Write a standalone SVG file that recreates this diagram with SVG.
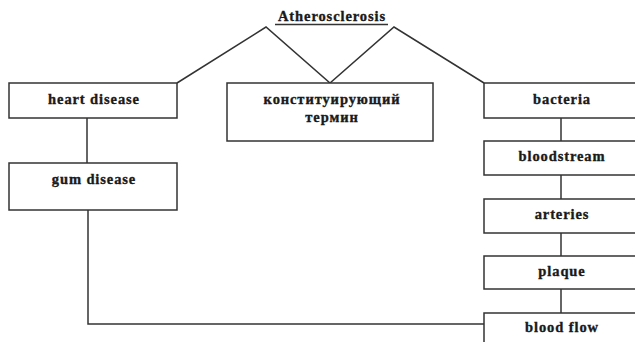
<svg xmlns="http://www.w3.org/2000/svg" width="635" height="342" viewBox="0 0 635 342">
<style>
.box{fill:#fff;stroke:#333;stroke-width:1.5}
.t{font-family:"Liberation Serif","Times New Roman",serif;font-weight:bold;font-size:14.5px;letter-spacing:0.9px;fill:#1a1a1a;stroke:#1a1a1a;stroke-width:0.35;text-anchor:middle}
.c{fill:none;stroke:#333;stroke-width:1.5}
</style>
<rect width="635" height="342" fill="#fff"/>
<g id="connectors">
<polyline class="c" points="177,83 266,27 330,83 394,27 484,83"/>
<line class="c" x1="87" y1="118" x2="87" y2="163"/>
<polyline class="c" points="88,210 88,324 484,324"/>
<line class="c" x1="561" y1="118" x2="561" y2="141"/>
<line class="c" x1="561" y1="175" x2="561" y2="199"/>
<line class="c" x1="561" y1="233" x2="561" y2="256"/>
<line class="c" x1="561" y1="289" x2="561" y2="313"/>
</g>
<g id="title">
<text class="t" x="332" y="21">Atherosclerosis</text>
<line x1="275" y1="24.5" x2="388" y2="24.5" stroke="#333" stroke-width="1.3"/>
</g>
<g id="heart-disease"><rect class="box" x="9" y="83" width="168" height="35"/><text class="t" x="94" y="104">heart disease</text></g>
<g id="gum-disease"><rect class="box" x="9" y="163" width="168" height="47"/><text class="t" x="94" y="184">gum disease</text></g>
<g id="term"><rect class="box" x="227" y="83" width="206" height="58"/><text class="t" x="332" y="104">конституирующий</text><text class="t" x="332" y="122">термин</text></g>
<g id="bacteria"><rect class="box" x="484" y="83" width="156" height="35"/><text class="t" x="562" y="104">bacteria</text></g>
<g id="bloodstream"><rect class="box" x="484" y="141" width="156" height="34"/><text class="t" x="562" y="161">bloodstream</text></g>
<g id="arteries"><rect class="box" x="484" y="199" width="156" height="34"/><text class="t" x="562" y="219">arteries</text></g>
<g id="plaque"><rect class="box" x="484" y="256" width="156" height="33"/><text class="t" x="562" y="276">plaque</text></g>
<g id="blood-flow"><rect class="box" x="484" y="313" width="156" height="40"/><text class="t" x="562" y="332">blood flow</text></g>
</svg>
